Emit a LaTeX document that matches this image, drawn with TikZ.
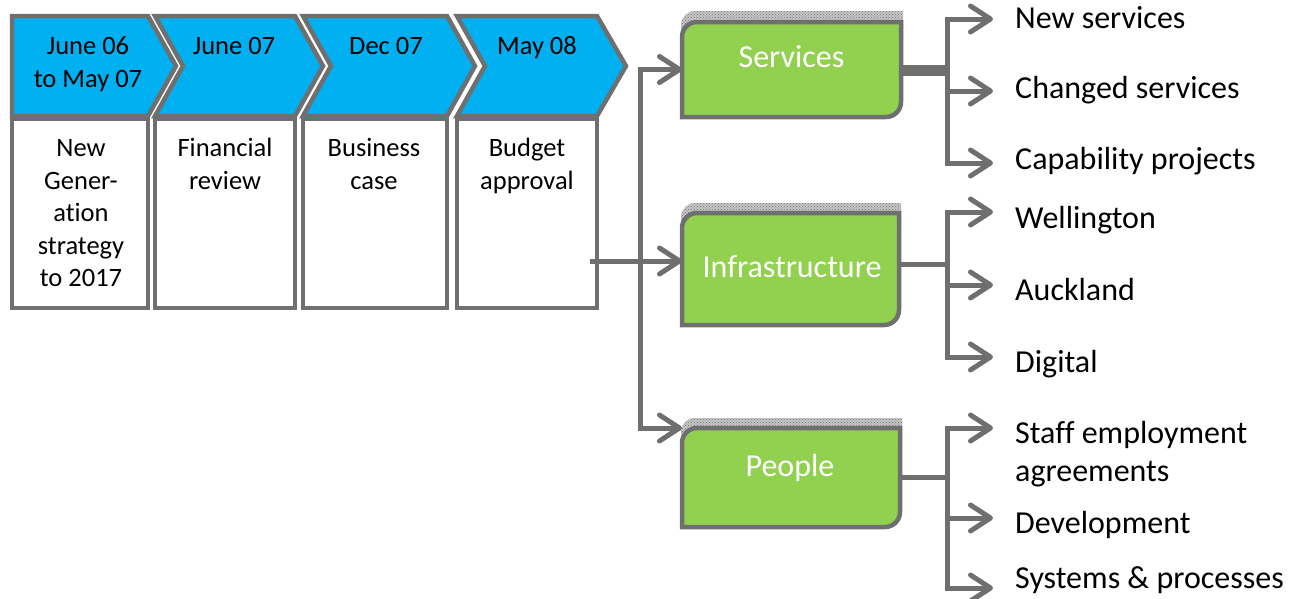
\documentclass[tikz,border=0pt]{standalone}
\usepackage{fontspec}
\setmainfont{Carlito}[Ligatures=NoCommon]
\usetikzlibrary{arrows.meta,patterns}
\definecolor{ln}{HTML}{6F6F6F}
\definecolor{chev}{HTML}{00B0F0}
\definecolor{grn}{HTML}{92D050}

\begin{document}
\begin{tikzpicture}[x=1pt,y=1pt,
  chevron/.style={draw=ln, line width=4.5pt, fill=chev, line join=miter},
  stepbox/.style={draw=ln, line width=4.5pt, fill=white, inner sep=0pt},
  datetext/.style={anchor=north, inner sep=0pt, align=center,
    font=\fontsize{26.5}{32.5}\selectfont},
  area/.style={inner sep=0pt, outer sep=0pt},
  gbox/.style={draw=ln, line width=4.5pt, fill=grn},
  hatch/.style={pattern=crosshatch dots, pattern color=ln, preaction={fill=gray!45}},
  gtext/.style={anchor=base, inner sep=0pt, text=white, font=\fontsize{32}{38.5}\selectfont},
  item/.style={inner sep=0pt, font=\fontsize{32}{38.5}\selectfont},
  conn/.style={draw=ln, line width=5pt},
  arr/.style={conn, -{Straight Barb[length=20pt,width=26pt,round]}}
]
\useasboundingbox (0,0) rectangle (1302,-598);

% ---- timeline chevrons ----
\draw[chevron] (12,-16) -- (148,-16) -- (176,-66) -- (148,-116) -- (12,-116) -- cycle;
\draw[chevron] (155,-16) -- (295,-16) -- (323,-66) -- (295,-116) -- (155,-116) -- (183,-66) -- cycle;
\draw[chevron] (303,-16) -- (447,-16) -- (475,-66) -- (447,-116) -- (303,-116) -- (331,-66) -- cycle;
\draw[chevron] (457,-16) -- (597,-16) -- (626,-66) -- (597,-116) -- (457,-116) -- (485,-66) -- cycle;

\node[datetext] (d1) at (88,-31.75)  {\strut June 06\\to May 07};
\node[datetext] (d2) at (234,-31.75) {\strut June 07};
\node[datetext] (d3) at (386,-31.75) {\strut Dec 07};
\node[datetext] (d4) at (537,-31.75) {\strut May 08};

% ---- step description boxes ----
\node[stepbox, minimum width=136pt, minimum height=189pt] (b1) at (80,-213.5) {};
\node[stepbox, minimum width=140pt, minimum height=189pt] (b2) at (225,-213.5) {};
\node[stepbox, minimum width=144pt, minimum height=189pt] (b3) at (375,-213.5) {};
\node[stepbox, minimum width=140pt, minimum height=189pt] (b4) at (527,-213.5) {};

\node[datetext] (t1) at (81,-134)  {\strut New\\Gener-\\ation\\strategy\\to 2017};
\node[datetext] (t2) at (225,-134) {\strut Financial\\review};
\node[datetext] (t3) at (374,-134) {\strut Business\\case};
\node[datetext] (t4) at (527,-134) {\strut Budget\\approval};

% ---- green work streams ----
% Services
\path[hatch] (681,-40) -- (681,-25) arc[start angle=180,end angle=90,radius=14] -- (903,-11) -- (903,-40) -- cycle;
\draw[gbox] (682,-117) -- (682,-37) arc[start angle=180,end angle=90,radius=15]
  -- (901,-22) -- (901,-102) arc[start angle=0,end angle=-90,radius=15] -- cycle;
\node[area, minimum width=219pt, minimum height=95pt] (svc) at (791.5,-69.5) {};
\node[gtext] (svcL) at (791.5,-67) {Services};

% Infrastructure
\path[hatch] (681,-230) -- (681,-217) arc[start angle=180,end angle=90,radius=14] -- (901,-203) -- (901,-230) -- cycle;
\draw[gbox] (682,-325) -- (682,-228) arc[start angle=180,end angle=90,radius=15]
  -- (899,-213) -- (899,-310) arc[start angle=0,end angle=-90,radius=15] -- cycle;
\node[area, minimum width=217pt, minimum height=112pt] (infra) at (790.5,-269) {};
\node[gtext] (infraL) at (792,-277) {Infrastructure};

% People
\path[hatch] (681,-445) -- (681,-432) arc[start angle=180,end angle=90,radius=14] -- (902,-418) -- (902,-445) -- cycle;
\draw[gbox] (682,-527) -- (682,-443) arc[start angle=180,end angle=90,radius=15]
  -- (900,-428) -- (900,-512) arc[start angle=0,end angle=-90,radius=15] -- cycle;
\node[area, minimum width=218pt, minimum height=99pt] (ppl) at (791,-477.5) {};
\node[gtext] (pplL) at (790,-476) {People};

% ---- feed from budget approval into the streams ----
\coordinate (hub) at (640,-261);
\coordinate (src) at ([xshift=-9pt]b4.east |- hub);
\draw[conn] (src) -- (hub);
\draw[arr] (hub) |- (svc.west);
\draw[arr] (hub) -- (infra.west |- hub);
\draw[arr] (hub) |- (ppl.north west);

% ---- outcome labels ----
\node[item, anchor=base west] (newS) at (1015,-28)  {New services};
\node[item, anchor=base west] (chgS) at (1015,-98)  {Changed services};
\node[item, anchor=base west] (capP) at (1015,-169) {Capability projects};
\node[item, anchor=base west] (wel)  at (1015,-228) {Wellington};
\node[item, anchor=base west] (akl)  at (1015,-300) {Auckland};
\node[item, anchor=base west] (dig)  at (1015,-372) {Digital};
\node[item, anchor=north west, align=left] (staff) at (1015,-416) {\strut Staff employment\\agreements};
\node[item, anchor=base west] (dev)  at (1015,-533) {Development};
\node[item, anchor=base west] (sys)  at (1015,-588) {Systems \& processes};

% arrow ends beside the labels
\coordinate (aNew) at (993,-19);
\coordinate (aChg) at (993,-91);
\coordinate (aCap) at (993,-163);
\coordinate (aWel) at (993,-212);
\coordinate (aAkl) at (993,-285);
\coordinate (aDig) at (993,-357);
\coordinate (aStf) at (993,-428);
\coordinate (aDev) at (993,-518);
\coordinate (aSys) at (993,-588);

% Services branches
\coordinate (sbus) at (947,-70);
\draw[conn, line width=11pt] (svc.east |- sbus) -- ([xshift=3pt]sbus);
\draw[arr] (sbus) |- (aNew);
\draw[arr] (sbus) |- (aCap);
\draw[arr] (sbus |- aChg) -- (aChg);

% Infrastructure branches
\coordinate (ibus) at (947,-264);
\draw[conn] (infra.east |- ibus) -- (ibus);
\draw[arr] (ibus) |- (aWel);
\draw[arr] (ibus) |- (aDig);
\draw[arr] (ibus |- aAkl) -- (aAkl);

% People branches
\coordinate (pbus) at (947,-477);
\draw[conn] (ppl.east |- pbus) -- (pbus);
\draw[arr] (pbus) |- (aStf);
\draw[arr] (pbus) |- (aSys);
\draw[arr] (pbus |- aDev) -- (aDev);
\end{tikzpicture}
\end{document}
